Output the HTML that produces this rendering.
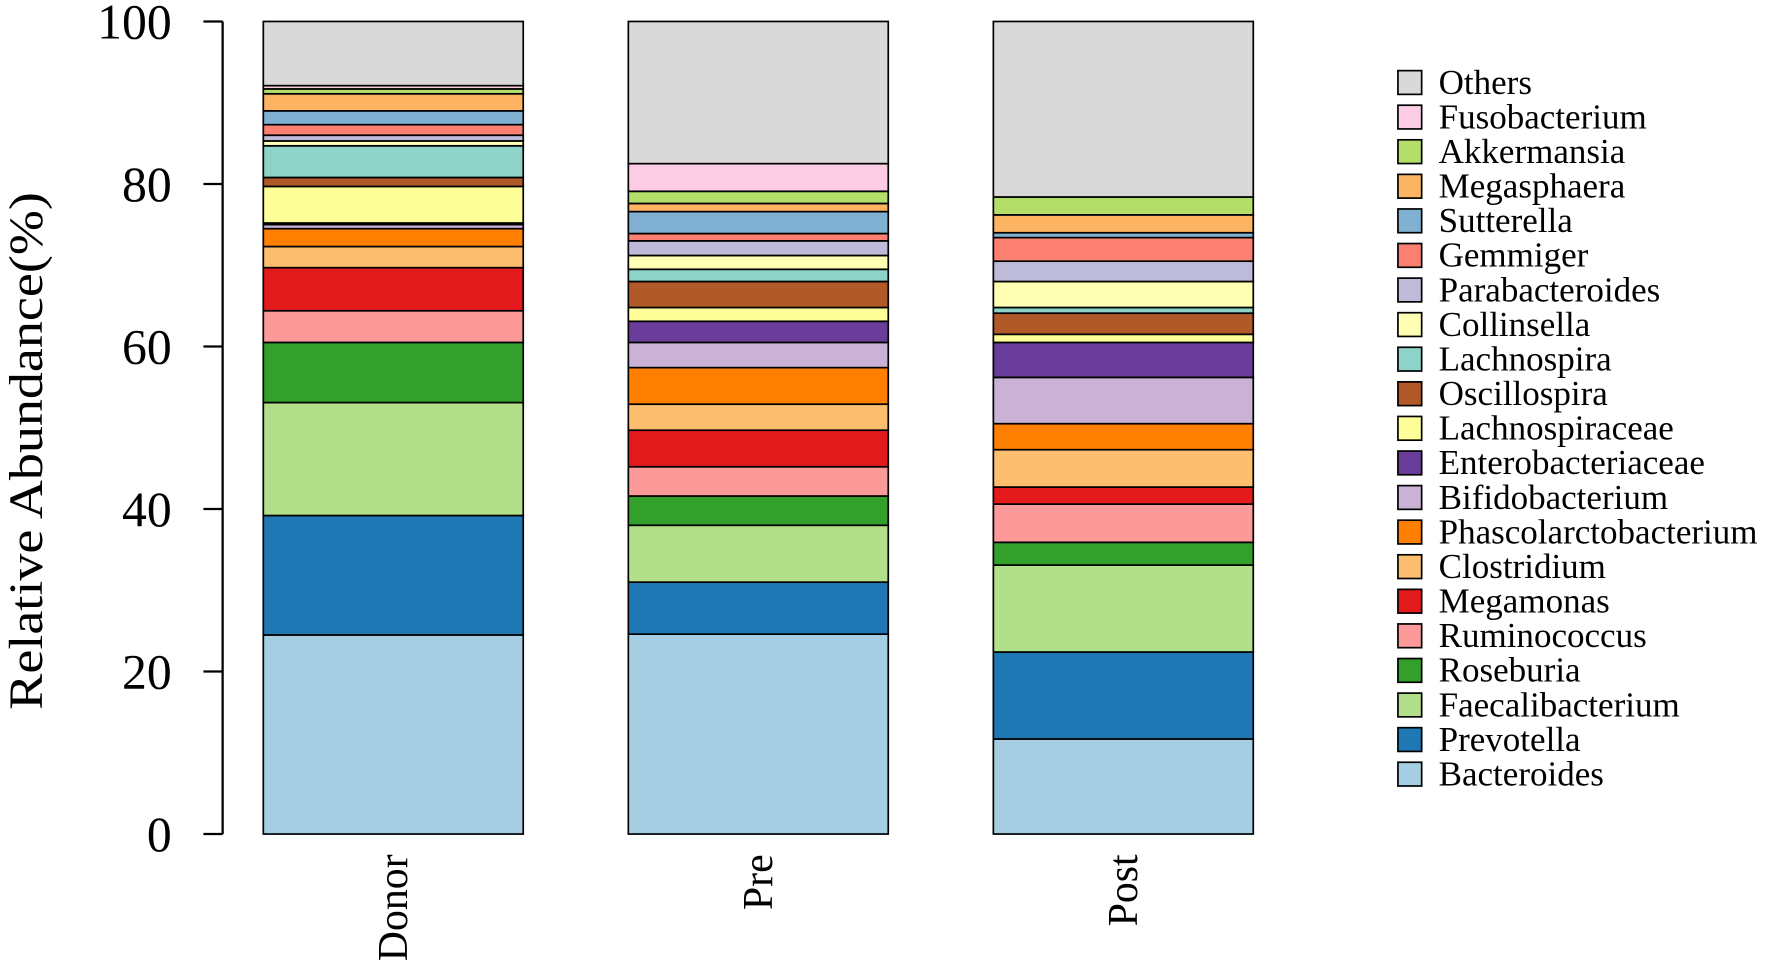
<!DOCTYPE html>
<html><head><meta charset="utf-8"><style>html,body{margin:0;padding:0;background:#fff}svg{display:block}</style></head>
<body>
<svg id="chart" width="1772" height="964" viewBox="0 0 1568 853" preserveAspectRatio="none" xmlns="http://www.w3.org/2000/svg" font-family="Liberation Serif, serif"></svg>
<script>
const categories = ["Donor","Pre","Post"];
const taxa = ["Bacteroides","Prevotella","Faecalibacterium","Roseburia","Ruminococcus","Megamonas","Clostridium","Phascolarctobacterium","Bifidobacterium","Enterobacteriaceae","Lachnospiraceae","Oscillospira","Lachnospira","Collinsella","Parabacteroides","Gemmiger","Sutterella","Megasphaera","Akkermansia","Fusobacterium","Others"];
const colors = ["#a6cee3","#1f78b4","#b2df8a","#33a02c","#fb9a99","#e31a1c","#fdbf6f","#ff7f00","#cab2d6","#6a3d9a","#ffff99","#b15928","#8dd3c7","#ffffb3","#bebada","#fb8072","#80b1d3","#fdb462","#b3de69","#fccde5","#d9d9d9"];
const donorValues = [24.5,14.7,13.9,7.4,3.9,5.3,2.6,2.2,0.5,0.2,4.5,1.1,3.9,0.6,0.7,1.3,1.7,2.1,0.6,0.4,7.9];
const preValues = [24.6,6.4,7.0,3.6,3.6,4.5,3.2,4.5,3.1,2.6,1.7,3.2,1.5,1.7,1.8,0.9,2.7,1.0,1.5,3.4,17.5];
const postValues = [11.7,10.7,10.7,2.8,4.7,2.1,4.6,3.2,5.7,4.3,1.0,2.6,0.7,3.2,2.5,2.9,0.6,2.2,2.2,0,21.6];
const yTicks = [0,20,40,60,80,100];
const series = [donorValues, preValues, postValues];

const NS = "http://www.w3.org/2000/svg";
const svg = document.getElementById("chart");
function el(tag, attrs, parent){const e=document.createElementNS(NS,tag);for(const k in attrs)e.setAttribute(k,attrs[k]);(parent||svg).appendChild(e);return e;}
const y0=738, y1=19;
function yScale(v){return y0-(y0-y1)*v/100;}
const barX=[233,556,879], barW=230;
function xScale(i){return barX[i];}

const axis = el("g",{});


el("line",{x1:197,x2:197,y1:yScale(0),y2:yScale(100),stroke:"#000","stroke-width":2},axis);
yTicks.forEach(t=>{
  el("line",{x1:180,x2:197,y1:yScale(t),y2:yScale(t),stroke:"#000","stroke-width":2},axis);
  const tx=el("text",{x:152,y:yScale(t)+15,"text-anchor":"end","font-size":44},axis);
  
  
  tx.textContent=t;
});
const yt=el("text",{x:0,y:0,transform:"translate(37,399) rotate(-90)","text-anchor":"middle","font-size":42,textLength:458,lengthAdjust:"spacingAndGlyphs"});


yt.textContent="Relative Abundance(%)";

series.forEach((vals,i)=>{
  const g=el("g",{});
  
  
  let cum=0;
  vals.forEach((v,j)=>{
    if(v<=0){return;}
    const r=el("rect",{x:xScale(i),y:yScale(cum+v),width:barW,height:yScale(cum)-yScale(cum+v),fill:colors[j],stroke:"#000","stroke-width":1.5},g);
    
    
    cum+=v;
  });
  const lab=el("text",{x:0,y:0,transform:`translate(${xScale(i)+barW/2+12},756) rotate(-90)`,"text-anchor":"end","font-size":37});
  
  
  lab.textContent=categories[i];
});

const lg=el("g",{});


for(let k=0;k<taxa.length;k++){
  const j=taxa.length-1-k;
  const cy=73+k*30.6;
  const row=el("g",{},lg);
  
  
  el("rect",{x:1237,y:cy-10.5,width:21,height:21,fill:colors[j],stroke:"#000","stroke-width":1.5},row);
  const t=el("text",{x:1273,y:cy+10,"font-size":31},row);
  t.textContent=taxa[j];
}
</script>
</body></html>
